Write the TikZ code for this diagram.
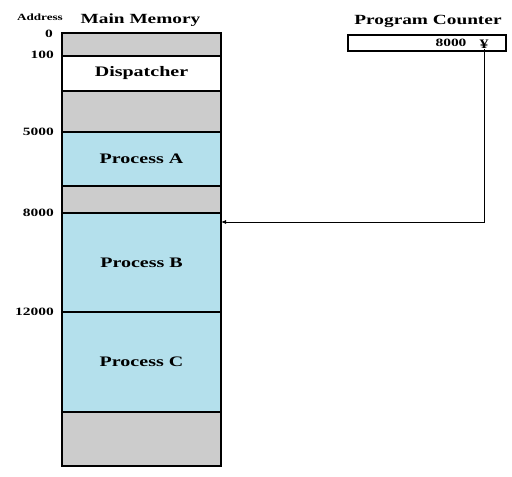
\documentclass[tikz,border=0pt]{standalone}
\usepackage{fontspec}
\setmainfont[FakeStretch=1.38]{Liberation Serif}
\usetikzlibrary{arrows.meta}
\definecolor{memgray}{RGB}{204,204,204}
\definecolor{procblue}{RGB}{180,224,236}
\begin{document}
\begin{tikzpicture}[x=1pt,y=-1pt,
  region/.style={draw=black,line width=1.1pt,anchor=north west,outer sep=0pt,inner sep=0pt,
    minimum width=159pt,font=\fontsize{14.5}{16}\selectfont\bfseries},
  freeblk/.style={region,fill=memgray},
  procblk/.style={region,fill=procblue},
  dispblk/.style={region,fill=white},
  addr/.style={anchor=east,inner sep=0pt,font=\fontsize{11.2}{12}\selectfont\bfseries},
  title/.style={inner sep=0pt,font=\fontsize{14}{16}\selectfont\bfseries}]
\useasboundingbox (0,0) rectangle (512,477);
\node[freeblk,minimum height=23pt] (f0) at (62,33) {};
\node[dispblk,minimum height=35pt] (disp) at (62,56) {Dispatcher};
\node[freeblk,minimum height=41pt] (f1) at (62,91) {};
\node[procblk,minimum height=54pt] (pa) at (62,132) {Process A};
\node[freeblk,minimum height=27pt] (f2) at (62,186) {};
\node[procblk,minimum height=99pt] (pb) at (62,213) {Process B};
\node[procblk,minimum height=100pt] (pc) at (62,312) {Process C};
\node[freeblk,minimum height=54pt] (f3) at (62,412) {};
\draw[line width=1.4pt] (f0.north west) rectangle (f3.south east);
\node[title] (mmt) at (140.5,20) {Main Memory};
\node[inner sep=0pt,font=\fontsize{9.5}{10}\selectfont\bfseries] (addrt) at (40,17) {Address};
\node[addr] (a0) at (53,34) {0};
\node[addr] (a100) at (54,55) {100};
\node[addr] (a5000) at (54,132) {5000};
\node[addr] (a8000) at (54,213) {8000};
\node[addr] (a12000) at (54,312) {12000};
\node[title] (pct) at (428,21) {Program Counter};
\node[draw=black,line width=1.1pt,anchor=north west,minimum width=158pt,minimum height=16pt,
  outer sep=0pt,inner sep=0pt] (pc box) at (348,35) {};
\node[addr,anchor=center] (pcval) at (451,43) {8000};
\node[inner sep=0pt,font=\fontsize{13}{14}\selectfont\bfseries] (yen) at (484,44.5) {¥};
\coordinate (turn) at (484,222);
\coordinate (tgt) at (pb.north east |- turn);
\draw[line width=0.8pt,-{Latex[length=5pt,width=4pt]}] (yen.south) -- (turn) -- (tgt);
\end{tikzpicture}
\end{document}
